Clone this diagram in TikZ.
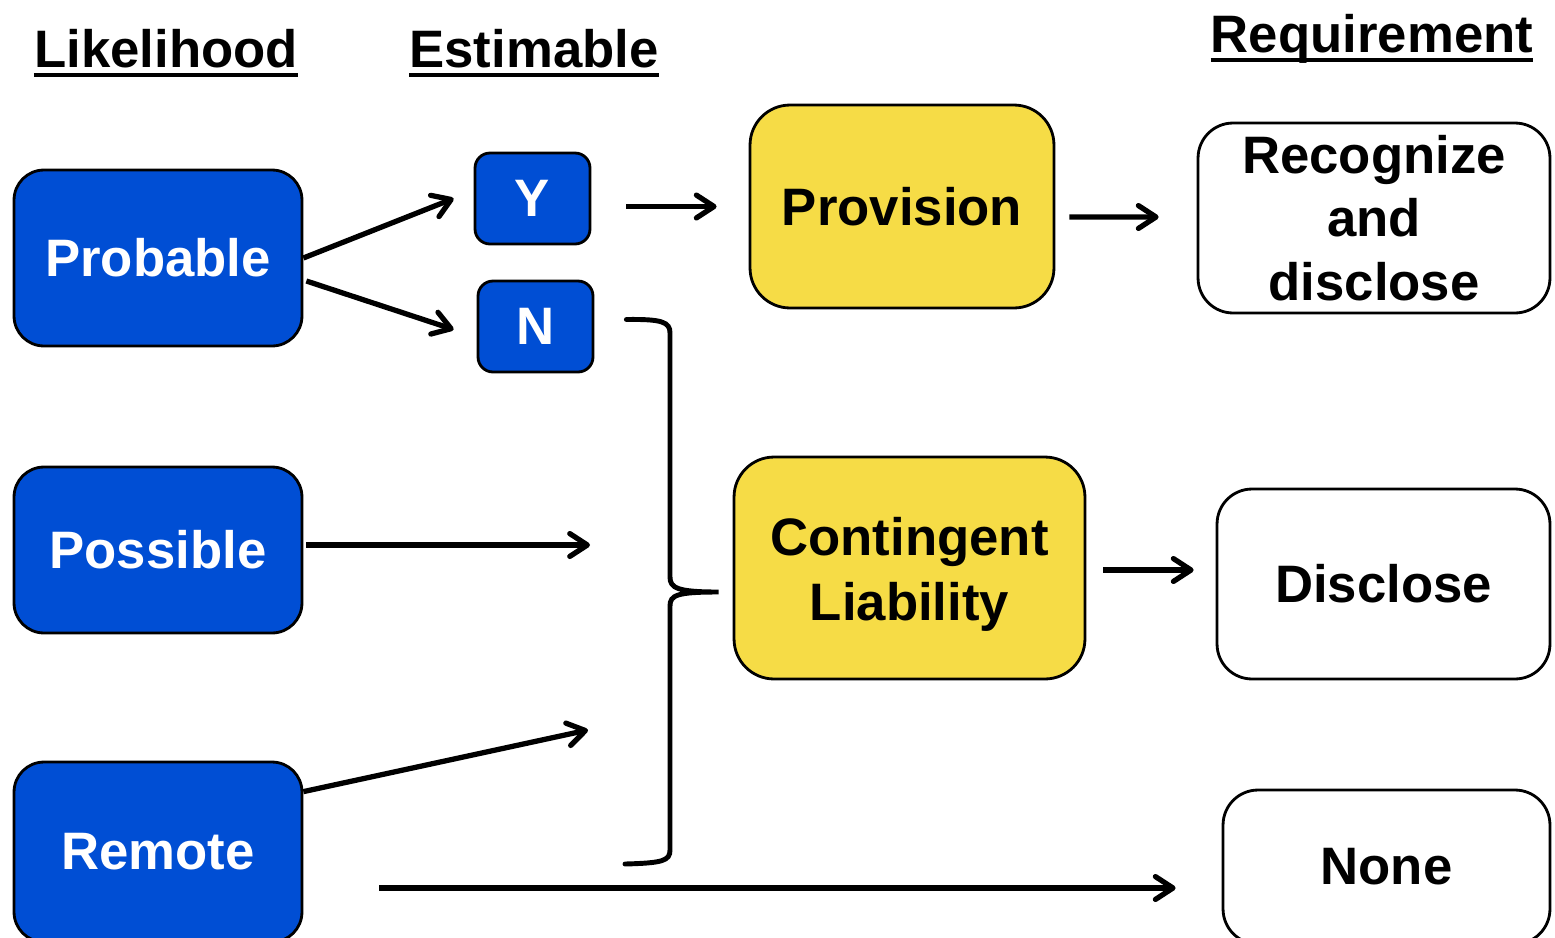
\documentclass[tikz,border=0pt]{standalone}
\usepackage{fontspec}
\setmainfont{Liberation Sans}
\usetikzlibrary{arrows.meta,calc}
\definecolor{boxblue}{RGB}{0,78,212}
\definecolor{boxyellow}{RGB}{246,220,70}
\tikzset{
  lbl/.style={font=\fontsize{30}{36}\selectfont\bfseries, align=center, inner sep=0pt},
  bluebox/.style={lbl, draw=black, line width=1.6pt, fill=boxblue, text=white},
  yellowbox/.style={lbl, draw=black, line width=1.6pt, fill=boxyellow},
  whitebox/.style={lbl, draw=black, line width=1.6pt, fill=white},
  heading/.style={lbl, anchor=base},
  uline/.style={line width=2.3pt},
  arr/.style={line width=3pt, -{Straight Barb[length=10pt, width=13pt, round]}},
  brl/.style={line width=2.8pt, line cap=round},
}
\begin{document}
\begin{tikzpicture}[x=0.02cm, y=-0.02cm]
  \path[use as bounding box, clip] (0,0) rectangle (1555,937);

  % column headings
  \node[heading] (hlik) at (166,67) {Likelihood};
  \node[heading] (hest) at (534,67) {Estimable};
  \node[heading] (hreq) at (1372,52) {Requirement};
  \foreach \h in {hlik,hest,hreq}
    \draw[uline] ($(\h.base west)+(0,8)$) -- ($(\h.base east)+(0,8)$);

  % likelihood boxes
  \node[bluebox, rounded corners=0.6cm, minimum width=5.76cm, minimum height=3.52cm] (prob) at (158,258) {Probable};
  \node[bluebox, rounded corners=0.6cm, minimum width=5.76cm, minimum height=3.32cm] (poss) at (158,550) {Possible};
  \node[bluebox, rounded corners=0.6cm, minimum width=5.76cm, minimum height=3.6cm] (rem) at (158,852) {Remote};

  % estimable boxes
  \node[bluebox, rounded corners=0.3cm, minimum width=2.3cm, minimum height=1.82cm] (Y) at (532.5,198.5) {Y};
  \node[bluebox, rounded corners=0.3cm, minimum width=2.3cm, minimum height=1.82cm] (N) at (535.5,326.5) {N};

  % accounting treatment
  \node[yellowbox, rounded corners=0.8cm, minimum width=6.08cm, minimum height=4.06cm] (prov) at (902,206.5) {Provision};
  \node[yellowbox, rounded corners=0.8cm, minimum width=7.02cm, minimum height=4.44cm] (cont) at (909.5,568) {\rule{0pt}{29pt}Contingent\\[1pt]Liability};

  % requirements
  \node[whitebox, rounded corners=0.7cm, minimum width=7.04cm, minimum height=3.8cm] (rec) at (1374,218) {Recognize\\and\\disclose};
  \node[whitebox, rounded corners=0.7cm, minimum width=6.66cm, minimum height=3.8cm] (disc) at (1383.5,584) {Disclose};
  \node[whitebox, rounded corners=0.7cm, minimum width=6.54cm, minimum height=3.08cm] (none) at (1386.5,867) {None};

  % free arrow ends
  \coordinate (possend) at (590,545);
  \coordinate (remend) at (588,730);

  % connectors
  \draw[arr] (prob.east) -- ($(Y.west)+(-20,0)$);
  \draw[arr] ($(prob.east)+(3,23)$) -- ($(N.west)+(-23,3)$);
  \draw[arr] ($(Y.east)+(35,8)$) -- ($(prov.west)+(-32,0)$);
  \draw[arr] ($(prov.east)+(14,10.5)$) -- ($(rec.west)+(-38,-1)$);
  \draw[arr] ($(poss.east)+(3,-5)$) -- (possend);
  \draw[arr] ($(rem.north east)+(0,31)$) -- (remend);
  \draw[arr] ($(cont.east)+(17,2)$) -- ($(disc.west)+(-22,-14)$);
  \draw[arr] ($(rem.east)+(76,36)$) -- ($(none.west)+(-46,21)$);

  % brace gathering N, possible and remote
  \coordinate (bt) at ($(N.east)+(32,-7)$);
  \coordinate (bm) at ($(cont.west)+(-14,24)$);
  \coordinate (bb) at (625,864);
  \draw[brl] (bt) .. controls (662,319) and (670,322) .. (670,333)
    -- (670,577) .. controls (670,588) and (677,592) .. (bm)
    .. controls (677,592) and (670,595) .. (670,606)
    -- (670,850) .. controls (670,861) and (662,863) .. (bb);
\end{tikzpicture}
\end{document}
